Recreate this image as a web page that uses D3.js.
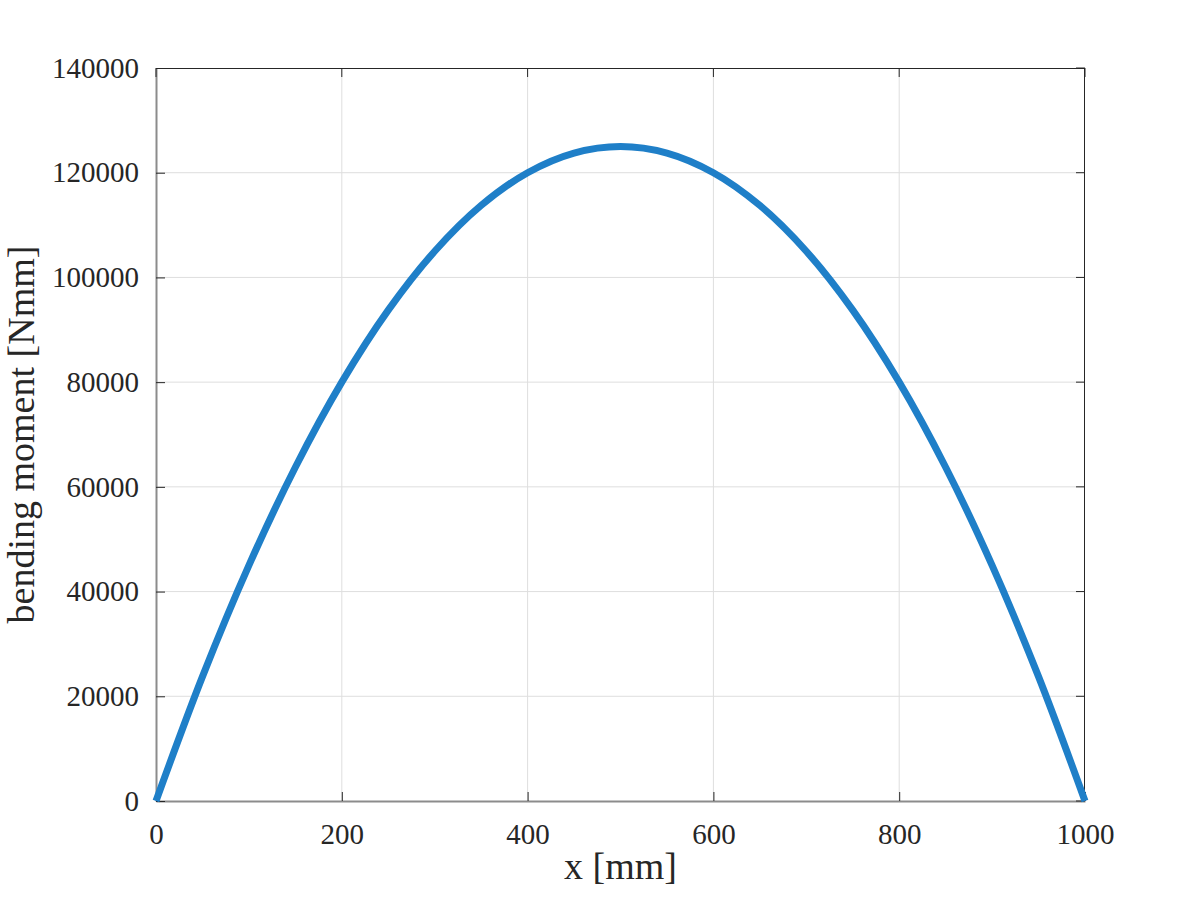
<!DOCTYPE html>
<html>
<head>
<meta charset="utf-8">
<script src="https://cdn.jsdelivr.net/npm/d3@7"></script>
<style>
  body { margin: 0; background: #fff; }
  svg text { font-family: "Liberation Serif", "Times New Roman", serif; }
</style>
</head>
<body>
<div id="chart"></div>
<script>
// positions along the beam [mm] and bending moment [Nmm]
const xPos = [0, 50, 100, 150, 200, 250, 300, 350, 400, 450, 500,
  550, 600, 650, 700, 750, 800, 850, 900, 950, 1000];
const moment = [0, 23750, 45000, 63750, 80000, 93750, 105000, 113750, 120000, 123750, 125000,
  123750, 120000, 113750, 105000, 93750, 80000, 63750, 45000, 23750, 0];
const xTicks = [0, 200, 400, 600, 800, 1000];
const yTicks = [0, 20000, 40000, 60000, 80000, 100000, 120000, 140000];

const width = 1200, height = 900;
const margin = { top: 68, right: 115, bottom: 99, left: 156 };
const w = width - margin.left - margin.right;
const h = height - margin.top - margin.bottom;
const fontFamily = '"Liberation Serif", "Times New Roman", serif';

const svg = d3.select('#chart').append('svg')
  .attr('width', width)
  .attr('height', height);

const g = svg.append('g')
  .attr('transform', `translate(${margin.left}, ${margin.top})`);

const xScale = d3.scaleLinear().domain([0, 1000]).range([0, w]);
const yScale = d3.scaleLinear().domain([0, 140000]).range([h, 0]);

// grid
g.append('g').selectAll('line').data(xTicks.slice(1, -1)).enter().append('line')
  .attr('x1', d => xScale(d)).attr('x2', d => xScale(d))
  .attr('y1', 0).attr('y2', h)
  .attr('stroke', '#dedede').attr('stroke-width', 1);
g.append('g').selectAll('line').data(yTicks.slice(1, -1)).enter().append('line')
  .attr('y1', d => yScale(d)).attr('y2', d => yScale(d))
  .attr('x1', 0).attr('x2', w)
  .attr('stroke', '#dedede').attr('stroke-width', 1);

// box top/right
g.append('line').attr('x1', 0).attr('x2', w).attr('y1', 0.5).attr('y2', 0.5)
  .attr('stroke', '#262626').attr('stroke-width', 1);
g.append('line').attr('x1', w - 0.5).attr('x2', w - 0.5).attr('y1', 0).attr('y2', h)
  .attr('stroke', '#262626').attr('stroke-width', 1);

// axes
const xAxis = g.append('g')
  .attr('transform', `translate(0, ${h})`)
  .call(d3.axisBottom(xScale).tickValues(xTicks).tickSizeInner(-9).tickSizeOuter(0).tickPadding(22)
    .tickFormat(d3.format('d')));
const yAxis = g.append('g')
  .call(d3.axisLeft(yScale).tickValues(yTicks).tickSizeInner(-9).tickSizeOuter(0).tickPadding(17)
    .tickFormat(d3.format('d')));

[xAxis, yAxis].forEach(ax => {
  ax.attr('font-family', fontFamily).attr('font-size', 29);
  ax.select('.domain').attr('stroke', '#8c8c8c').attr('stroke-width', 2);
  ax.selectAll('.tick line').attr('stroke', '#262626').attr('stroke-width', 1);
  ax.selectAll('.tick text').attr('fill', '#262626');
});
xAxis.selectAll('.tick text').attr('dy', '0.71em');

// top/right ticks
g.append('g').selectAll('line').data(xTicks).enter().append('line')
  .attr('x1', d => xScale(d)).attr('x2', d => xScale(d))
  .attr('y1', 0).attr('y2', 9)
  .attr('stroke', '#262626');
g.append('g').selectAll('line').data(yTicks).enter().append('line')
  .attr('y1', d => yScale(d)).attr('y2', d => yScale(d))
  .attr('x1', w).attr('x2', w - 9)
  .attr('stroke', '#262626');

// curve
const line = d3.line()
  .x((d, i) => xScale(xPos[i]))
  .y(d => yScale(d))
  .curve(d3.curveCatmullRom);

g.append('path')
  .datum(moment)
  .attr('fill', 'none')
  .attr('stroke', '#1f7fc8')
  .attr('stroke-width', 7)
  .attr('d', line);

// labels
svg.append('text')
  .attr('x', margin.left + w / 2)
  .attr('y', 879)
  .attr('text-anchor', 'middle')
  .attr('fill', '#262626')
  .attr('font-family', fontFamily)
  .attr('font-size', 38)
  .text('x [mm]');

svg.append('text')
  .attr('transform', `translate(34, ${margin.top + h / 2}) rotate(-90)`)
  .attr('text-anchor', 'middle')
  .attr('fill', '#262626')
  .attr('font-family', fontFamily)
  .attr('font-size', 38)
  .text('bending moment [Nmm]');
</script>
</body>
</html>
